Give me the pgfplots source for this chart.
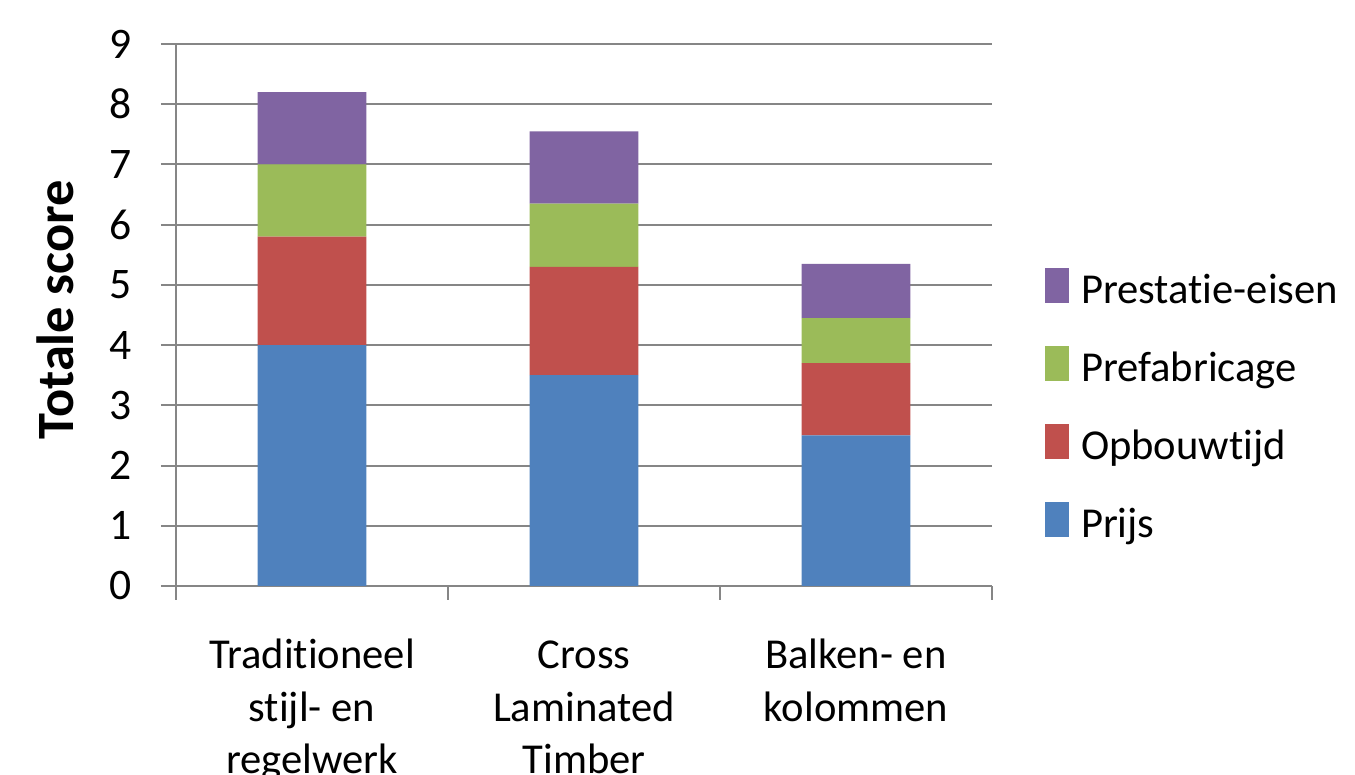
\documentclass[border=0pt]{standalone}
\usepackage{pgfplots}
\pgfplotsset{compat=1.18}
\usepackage{fontspec}
\setmainfont[Ligatures=NoCommon]{Carlito}
\definecolor{cBlue}{HTML}{4F81BD}
\definecolor{cRed}{HTML}{C0504D}
\definecolor{cGreen}{HTML}{9BBB59}
\definecolor{cPurple}{HTML}{8064A2}
\definecolor{gridgray}{HTML}{868686}
\begin{document}
\fontsize{21.3}{26}\selectfont
\begin{tikzpicture}
\begin{axis}[
  at={(88pt,94.5pt)}, anchor=south west,
  scale only axis, width=408pt, height=271pt,
  ybar stacked, bar width=0.4,
  xmin=-0.5, xmax=2.5, ymin=0, ymax=9,
  xtick={0,1,2},
  xticklabels={{Traditioneel\\stijl- en\\regelwerk},{\vphantom{l}Cross\\Laminated\\Timber},{Balken- en\\kolommen}},
  xticklabel style={align=center, font=\fontsize{21.3}{26.2}\selectfont, inner sep=0pt, anchor=north, yshift=-19pt},
  major x tick style={draw=none},
  minor xtick={-0.5,0.5,1.5,2.5},
  ytick={0,1,...,9},
  yticklabel style={font=\fontsize{21.8}{26}\selectfont, inner sep=0pt, anchor=east, xshift=-14.5pt},
  /pgf/number format/assume math mode=true,
  tick align=outside,
  major tick length=7.5pt, minor tick length=7pt,
  every tick/.style={gridgray, line width=1pt},
  minor tick style={gridgray, line width=1pt},
  ymajorgrids, grid style={gridgray, line width=1pt},
  axis x line*=bottom, axis y line*=left,
  axis line style={gridgray, line width=1pt},
  ylabel={Totale score},
  ylabel style={font=\bfseries\fontsize{26.2}{30}\selectfont, at={(axis description cs:-0.148,0.51)}, anchor=center},
  legend style={at={(1.065,0.332)}, anchor=west, draw=none, fill=none, inner sep=0pt, outer sep=0pt,
    row sep=18pt, column sep=6pt, font=\fontsize{21.3}{26}\selectfont,
    nodes={inner sep=0pt}},
  legend cell align=left,
  reverse legend,
]
\addplot[fill=cBlue, draw=none, legend image code/.code={\fill[cBlue] (0pt,-0.25em) rectangle (12pt,12pt);}]
  coordinates {(0,4.0) (1,3.5) (2,2.5)};
\addplot[fill=cRed, draw=none, legend image code/.code={\fill[cRed] (0pt,-0.25em) rectangle (12pt,12pt);}]
  coordinates {(0,1.8) (1,1.8) (2,1.2)};
\addplot[fill=cGreen, draw=none, legend image code/.code={\fill[cGreen] (0pt,-0.25em) rectangle (12pt,12pt);}]
  coordinates {(0,1.2) (1,1.05) (2,0.75)};
\addplot[fill=cPurple, draw=none, legend image code/.code={\fill[cPurple] (0pt,-0.25em) rectangle (12pt,12pt);}]
  coordinates {(0,1.2) (1,1.2) (2,0.9)};
\addlegendentry{\vphantom{Pbj}Prijs}
\addlegendentry{\vphantom{Pbj}Opbouwtijd}
\addlegendentry{\vphantom{Pbj}Prefabricage}
\addlegendentry{\vphantom{Pbj}Prestatie-eisen}
\end{axis}
\pgfresetboundingbox
\path[use as bounding box] (0,0) rectangle (677.5pt,387.5pt);
\end{tikzpicture}
\end{document}
